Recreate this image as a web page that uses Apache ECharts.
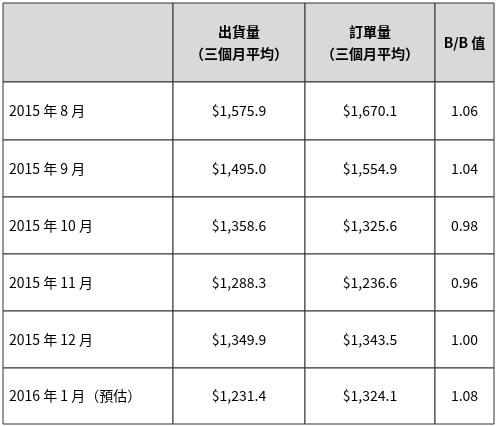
<!DOCTYPE html>
<html><head><meta charset="utf-8">
<script src="https://cdn.jsdelivr.net/npm/echarts@6/dist/echarts.min.js"></script>
<style>html,body{margin:0;padding:0;background:#fff}#c{width:497px;height:426px}</style>
</head><body><div id="c"></div>
<script>
const headers = ['', '出貨量\n（三個月平均）', '訂單量\n（三個月平均）', 'B/B 值'];
const months = ['2015 年 8 月','2015 年 9 月','2015 年 10 月','2015 年 11 月','2015 年 12 月','2016 年 1 月（預估）'];
const shipments = ['$1,575.9','$1,495.0','$1,358.6','$1,288.3','$1,349.9','$1,231.4'];
const orders = ['$1,670.1','$1,554.9','$1,325.6','$1,236.6','$1,343.5','$1,324.1'];
const bb = ['1.06','1.04','0.98','0.96','1.00','1.08'];

const colEdges = [3,173,305,435,494];
const rowEdges = [3,82,140,197,254,311,368,424];

const cells = [];
headers.forEach((h,c)=>cells.push([c,0,h]));
months.forEach((m,r)=>{
  cells.push([0,r+1,m]); cells.push([1,r+1,shipments[r]]);
  cells.push([2,r+1,orders[r]]); cells.push([3,r+1,bb[r]]);
});

const chart = echarts.init(document.getElementById('c'));
chart.setOption({
  animation:false,
  grid:{left:0,right:0,top:0,bottom:0},
  xAxis:{type:'value',min:0,max:497,show:false},
  yAxis:{type:'value',min:0,max:426,inverse:true,show:false},
  series:[{
    type:'custom',
    data:cells,
    renderItem:function(params,api){
      const c=api.value(0), r=api.value(1), t=cells[params.dataIndex][2];
      const p0=api.coord([colEdges[c],rowEdges[r]]);
      const p1=api.coord([colEdges[c+1],rowEdges[r+1]]);
      const w=p1[0]-p0[0], h=p1[1]-p0[1];
      const header=r===0;
      const left=c===0;
      return {type:'group',children:[
        {type:'rect',shape:{x:p0[0],y:p0[1],width:w,height:h},
         style:{fill:header?'#d9d9d9':'#fff',stroke:'#333',lineWidth:1}},
        {type:'text',style:{text:t,x:left?p0[0]+6:p0[0]+w/2,y:p0[1]+h/2,
          align:left?'left':'center',verticalAlign:'middle',
          font:(header?'bold ':'')+'14px "Noto Sans CJK TC", sans-serif',
          lineHeight:22,fill:'#000'}}
      ]};
    }
  }]
});
</script></body></html>
